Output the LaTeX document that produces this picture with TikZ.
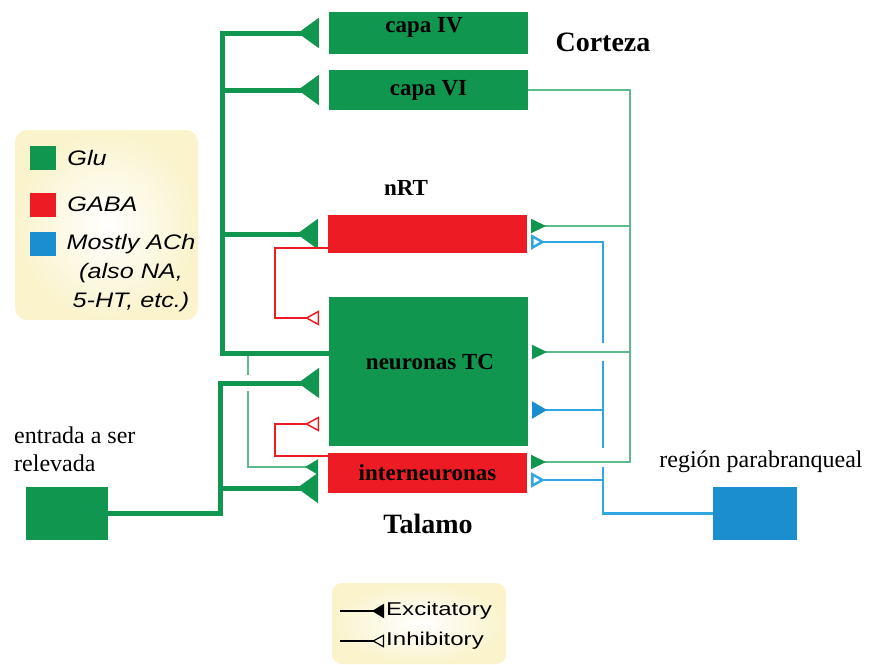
\documentclass[tikz,border=0pt]{standalone}
\usepackage{fontspec}
\setmainfont{Liberation Serif}
\setsansfont{Liberation Sans}
\newfontfamily\legfont[FakeStretch=1.2]{Liberation Sans}
\newfontfamily\clavefont[FakeStretch=1.3]{Liberation Sans}
\usetikzlibrary{arrows.meta,positioning}
\definecolor{glu}{RGB}{16,150,78}
\definecolor{gaba}{RGB}{237,28,36}
\definecolor{ach}{RGB}{27,142,208}
\definecolor{verdel}{RGB}{92,186,140}
\definecolor{azull}{RGB}{48,166,226}
\definecolor{crema}{RGB}{250,243,204}
\tikzset{
  caja/.style={inner sep=0pt,minimum width=199pt,font=\fontsize{23}{25}\selectfont\bfseries},
  rotulo/.style={inner sep=0pt,font=\fontsize{23}{25}\selectfont\bfseries},
  titulo/.style={inner sep=0pt,font=\fontsize{28}{30}\selectfont\bfseries},
  texto/.style={inner sep=0pt,font=\fontsize{24}{28}\selectfont},
  cuadro/.style={inner sep=0pt,minimum width=26pt,minimum height=24pt},
  leyenda/.style={inner sep=0pt,font=\fontsize{21}{29}\legfont\itshape},
  clave/.style={inner sep=2pt,anchor=west,font=\fontsize{18.5}{20}\clavefont},
  gruesa/.style={draw=glu,line width=5pt},
  verde/.style={draw=verdel,line width=2pt},
  azul/.style={draw=azull,line width=2.5pt},
  roja/.style={draw=gaba,line width=1.5pt},
  exg/.style={-{Triangle[reversed,length=21pt,width=29pt]},shorten >=10pt},
  exm/.style={-{Triangle[reversed,length=13pt,width=15pt,color=glu]},shorten >=10pt},
  inr/.style={-{Triangle[reversed,open,length=14pt,width=15pt]},shorten >=10pt},
  exs/.style={-{Triangle[reversed,length=15pt,width=14pt,color=glu]},shorten >=3pt},
  exb/.style={-{Triangle[reversed,length=15pt,width=17pt,color=ach]},shorten >=3pt},
  inb/.style={-{Triangle[reversed,open,length=14pt,width=15pt]},shorten >=3pt},
}
\begin{document}
\begin{tikzpicture}[x=1pt,y=-1pt]
  \useasboundingbox (0,0) rectangle (870,664);
  %Fondos de las leyendas
  \shade[rounded corners=12pt,inner color=white,outer color=crema] (15,130) rectangle (198,320);
  \shade[rounded corners=10pt,inner color=white,outer color=crema] (332,583) rectangle (506,664);
  %Cajas del diagrama
  \node[caja,fill=glu,minimum height=42pt] (C4) at (428.5,33) {};
  \node[rotulo] (C4t) at (424,27) {capa IV};
  \node[caja,fill=glu,minimum height=40pt] (C6) at (428.5,90) {capa VI};
  \node[caja,fill=gaba,minimum height=38pt] (RT) at (427.5,234) {};
  \node[caja,fill=glu,minimum height=149pt] (TC) at (428.5,371.5) {};
  \node[rotulo] (TCt) at (430,362) {neuronas TC};
  \node[caja,fill=gaba,minimum height=40pt] (IN) at (427.5,473) {interneuronas};
  \node[caja,fill=glu,minimum width=82pt,minimum height=53pt] (E) at (67,513.5) {};
  \node[caja,fill=ach,minimum width=84pt,minimum height=53pt] (PB) at (755,513.5) {};
  %Rotulos
  \node[titulo] (Cor) at (603,42) {Corteza};
  \node[rotulo] (RTt) at (406,188) {nRT};
  \node[titulo] (Tal) at (428,524) {Talamo};
  \node[texto,anchor=west,align=left] (Et) at (14,449) {entrada a ser\\relevada};
  \node[texto] (PBt) at (761,462) {región parabranqueal};
  %Puntos de llegada
  \coordinate (T0) at (222,353);
  \coordinate (T1) at (220,513.5);
  \coordinate (TCo) at (329,353);
  \coordinate (TCg) at (329,383);
  \coordinate (INg) at (328,488);
  \coordinate (INt) at (328,467);
  \coordinate (RTo) at (328,248);
  \coordinate (INo) at (328,456);
  \coordinate (TCr1) at (329,318);
  \coordinate (TCr2) at (329,424);
  \coordinate (RTv) at (528,226);
  \coordinate (TCv) at (529,352);
  \coordinate (INv) at (528,462);
  \coordinate (RTb) at (528,242);
  \coordinate (TCb) at (529,410);
  \coordinate (INb) at (528,480);
  %Conexiones izquierdas
  \draw[verde] (248,353) -- (248,375);
  \draw[verde,exm] (248,391) |- (INt);
  \draw[gruesa,exg] (TCo) -- (T0) |- (C4);
  \draw[gruesa,exg] (T0) |- (C6);
  \draw[gruesa,exg] (T0) |- (RT);
  \draw[gruesa,exg] (E) -- (T1) |- (TCg);
  \draw[gruesa,exg] (220,488) -- (INg);
  \draw[roja,inr] (RTo) -- (275,248) |- (TCr1);
  \draw[roja,inr] (INo) -- (275,456) |- (TCr2);
  %Conexiones derechas
  \draw[azul] (PB) -- (603,513.5) -- (603,467);
  \draw[azul,inb] (603,480) -- (INb);
  \draw[azul] (603,448) -- (603,361);
  \draw[azul,exb] (603,410) -- (TCb);
  \draw[azul,inb] (603,343) |- (RTb);
  \draw[verde,exs] (C6) -| (630,462) -- (INv);
  \draw[verde,exs] (630,226) -- (RTv);
  \draw[verde,exs] (630,352) -- (TCv);
  %Leyenda de colores
  \node[cuadro,fill=glu] (Lg) at (43,158) {};
  \node[cuadro,fill=gaba] (Lr) at (43,204.5) {};
  \node[cuadro,fill=ach] (La) at (43,244) {};
  \node[leyenda,right=11pt of Lg] (Lgt) {Glu};
  \node[leyenda,right=11pt of Lr] (Lrt) {GABA};
  \node[leyenda,align=center] (Lat) at (131,273) {Mostly ACh\\(also NA,\\5-HT, etc.)};
  %Leyenda de sinapsis
  \coordinate (X0) at (340,611);
  \coordinate (I0) at (340,641);
  \node[clave] (Xt) at (384,611) {Excitatory};
  \node[clave] (It) at (384,641) {Inhibitory};
  \draw[line width=2pt,-{Triangle[reversed,length=12pt,width=14pt]}] (X0) -- (Xt.west);
  \draw[line width=1.2pt,-{Triangle[reversed,open,length=12pt,width=13pt]}] (I0) -- (It.west);
\end{tikzpicture}
\end{document}
